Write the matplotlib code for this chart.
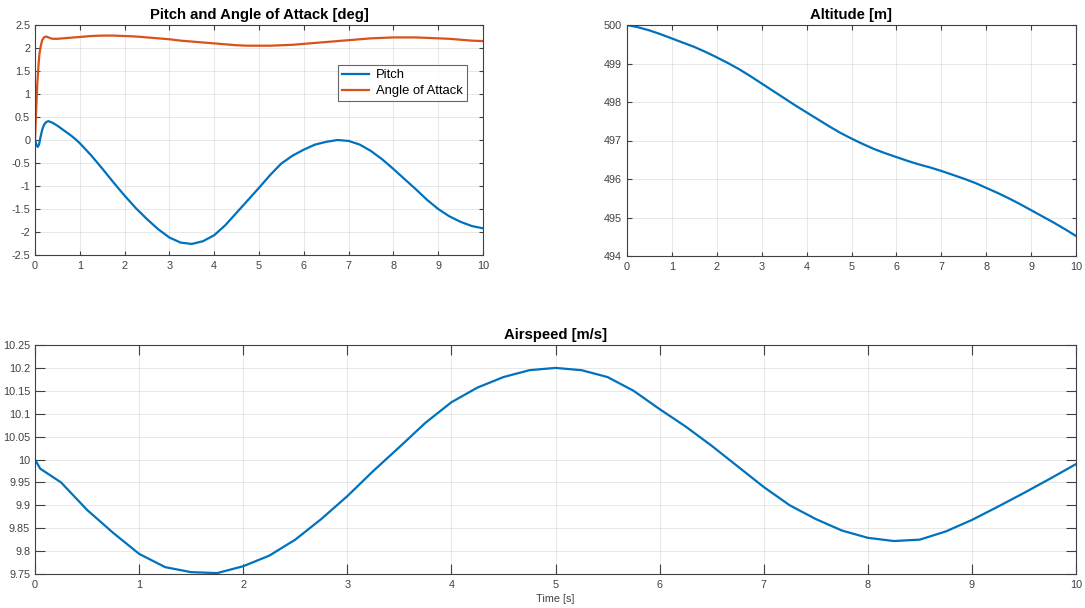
"""Flight response over 10 s: pitch / angle of attack, altitude and airspeed.

MATLAB-style layout: two panels on top, one wide panel below, boxed axes
with inward ticks on all sides and a light grid.
"""
import matplotlib
matplotlib.use("Agg")
import matplotlib.pyplot as plt

plt.rcParams["font.family"] = ["Liberation Sans", "DejaVu Sans"]

BLUE = "#0072BD"
ORANGE = "#D95319"
GREY = "#404040"

# --- pitch and angle of attack [deg] ---
t_att = [0, 0.03, 0.06, 0.09, 0.12, 0.16, 0.2, 0.25, 0.3, 0.4, 0.5, 0.6, 0.7,
         0.8, 0.9, 1.0, 1.25, 1.5, 1.75, 2.0, 2.25, 2.5, 2.75, 3.0, 3.25, 3.5,
         3.75, 4.0, 4.25, 4.5, 4.75, 5.0, 5.25, 5.5, 5.75, 6.0, 6.25, 6.5,
         6.75, 7.0, 7.25, 7.5, 7.75, 8.0, 8.25, 8.5, 8.75, 9.0, 9.25, 9.5,
         9.75, 10.0]
pitch = [0.0, -0.10, -0.15, -0.10, 0.05, 0.22, 0.33, 0.39, 0.41, 0.37, 0.31,
         0.24, 0.17, 0.10, 0.02, -0.07, -0.33, -0.62, -0.92, -1.21, -1.48,
         -1.72, -1.94, -2.12, -2.23, -2.26, -2.20, -2.07, -1.85, -1.58, -1.31,
         -1.04, -0.76, -0.51, -0.34, -0.21, -0.10, -0.04, 0.0, -0.02, -0.10,
         -0.24, -0.42, -0.63, -0.85, -1.07, -1.30, -1.50, -1.66, -1.78, -1.87,
         -1.92]

t_aoa = [0, 0.02, 0.05, 0.08, 0.1, 0.13, 0.16, 0.2, 0.25, 0.3, 0.35, 0.4, 0.5,
         0.75, 1.0, 1.25, 1.5, 1.75, 2.0, 2.25, 2.5, 2.75, 3.0, 3.25, 3.5,
         3.75, 4.0, 4.25, 4.5, 4.75, 5.0, 5.25, 5.5, 5.75, 6.0, 6.25, 6.5,
         6.75, 7.0, 7.25, 7.5, 7.75, 8.0, 8.25, 8.5, 8.75, 9.0, 9.25, 9.5,
         9.75, 10.0]
aoa = [0.0, 0.5, 1.2, 1.65, 1.88, 2.05, 2.17, 2.23, 2.25, 2.23, 2.21, 2.20,
       2.20, 2.22, 2.24, 2.26, 2.27, 2.27, 2.26, 2.25, 2.23, 2.21, 2.19, 2.16,
       2.14, 2.12, 2.10, 2.08, 2.06, 2.05, 2.05, 2.05, 2.06, 2.07, 2.09, 2.11,
       2.13, 2.15, 2.17, 2.19, 2.21, 2.22, 2.23, 2.23, 2.23, 2.22, 2.21, 2.20,
       2.18, 2.16, 2.15]

# --- altitude [m] and airspeed [m/s], quarter-second samples ---
t_q = [0, 0.25, 0.5, 0.75, 1.0, 1.25, 1.5, 1.75, 2.0, 2.25, 2.5, 2.75, 3.0,
       3.25, 3.5, 3.75, 4.0, 4.25, 4.5, 4.75, 5.0, 5.25, 5.5, 5.75, 6.0, 6.25,
       6.5, 6.75, 7.0, 7.25, 7.5, 7.75, 8.0, 8.25, 8.5, 8.75, 9.0, 9.25, 9.5,
       9.75, 10.0]
altitude = [500.0, 499.94, 499.86, 499.76, 499.65, 499.54, 499.43, 499.30,
            499.16, 499.01, 498.85, 498.67, 498.48, 498.29, 498.10, 497.91,
            497.73, 497.55, 497.37, 497.20, 497.05, 496.91, 496.78, 496.67,
            496.57, 496.47, 496.38, 496.30, 496.21, 496.11, 496.01, 495.90,
            495.77, 495.64, 495.50, 495.35, 495.19, 495.03, 494.87, 494.70,
            494.52]

t_v = [0, 0.05] + t_q[1:]
airspeed = [10.0, 9.98, 9.95, 9.89, 9.84, 9.794, 9.765, 9.754, 9.752, 9.767,
            9.79, 9.825, 9.87, 9.92, 9.975, 10.027, 10.08, 10.125, 10.157,
            10.18, 10.195, 10.2, 10.195, 10.18, 10.15, 10.11, 10.072, 10.03,
            9.985, 9.94, 9.90, 9.87, 9.845, 9.829, 9.822, 9.825, 9.843, 9.868,
            9.897, 9.927, 9.958, 9.99]

W, H = 1085, 608


def px_axes(fig, x0, y0, x1, y1):
    """Axes from pixel box (top-left origin)."""
    return fig.add_axes([x0 / W, (H - y1) / H, (x1 - x0) / W, (y1 - y0) / H])


def matlab_style(ax, ticklen):
    for s in ax.spines.values():
        s.set_color(GREY)
        s.set_linewidth(0.8)
    ax.tick_params(direction="in", top=True, right=True, length=ticklen,
                   width=0.8, color=GREY, labelcolor=GREY, labelsize=7.8)
    ax.tick_params(axis="x", pad=4.5)
    ax.tick_params(axis="y", pad=3.5)
    ax.grid(True, color="#262626", alpha=0.12, lw=0.6)
    ax.set_axisbelow(True)
    ax.set_xlim(0, 10)
    ax.set_xticks(range(11))


fig = plt.figure(figsize=(W / 100, H / 100), dpi=100)

ax1 = px_axes(fig, 35, 25, 483, 255)
ax1.plot(t_att, pitch, color=BLUE, lw=1.6, label="Pitch")
ax1.plot(t_aoa, aoa, color=ORANGE, lw=1.6, label="Angle of Attack")
matlab_style(ax1, 4.5 * 0.72)
ax1.set_ylim(-2.5, 2.5)
ax1.set_yticks([-2.5, -2, -1.5, -1, -0.5, 0, 0.5, 1, 1.5, 2, 2.5])
ax1.set_yticklabels(["-2.5", "-2", "-1.5", "-1", "-0.5", "0", "0.5", "1",
                     "1.5", "2", "2.5"])
ax1.set_title("Pitch and Angle of Attack [deg]", fontsize=10.7,
              fontweight="bold", pad=4)
leg = ax1.legend(loc="upper right", bbox_to_anchor=(0.964, 0.826),
                 fontsize=9.4, frameon=True, fancybox=False, handlelength=2.1,
                 borderpad=0.3, labelspacing=0.3, handletextpad=0.55,
                 borderaxespad=0)
leg.get_frame().set_edgecolor(GREY)
leg.get_frame().set_linewidth(0.8)

ax2 = px_axes(fig, 627, 25, 1076, 256)
ax2.plot(t_q, altitude, color=BLUE, lw=1.6)
matlab_style(ax2, 4.5 * 0.72)
ax2.set_ylim(494, 500)
ax2.set_yticks(range(494, 501))
ax2.set_title("Altitude [m]", fontsize=10.7, fontweight="bold", pad=4)

ax3 = px_axes(fig, 35, 345, 1076, 574)
ax3.plot(t_v, airspeed, color=BLUE, lw=1.6)
matlab_style(ax3, 10 * 0.72)
ax3.set_ylim(9.75, 10.25)
ax3.set_yticks([9.75, 9.8, 9.85, 9.9, 9.95, 10, 10.05, 10.1, 10.15, 10.2,
                10.25])
ax3.set_yticklabels(["9.75", "9.8", "9.85", "9.9", "9.95", "10", "10.05",
                     "10.1", "10.15", "10.2", "10.25"])
ax3.set_title("Airspeed [m/s]", fontsize=10.7, fontweight="bold", pad=4)
ax3.set_xlabel("Time [s]", fontsize=7.8, color=GREY, labelpad=2.5)

fig.savefig("out.png", dpi=100, facecolor="white")
